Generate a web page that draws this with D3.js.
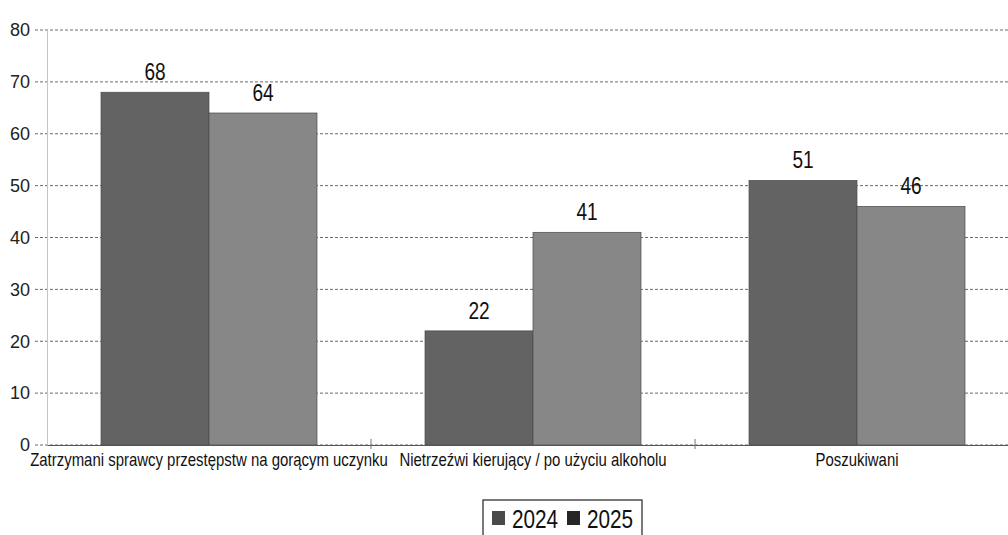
<!DOCTYPE html>
<html><head><meta charset="utf-8">
<script src="https://cdn.jsdelivr.net/npm/d3@7"></script>
<style>
html,body{margin:0;padding:0;background:#fff;}
svg{display:block;}
</style></head>
<body>
<script>
const categories = ["Zatrzymani sprawcy przestępstw na gorącym uczynku", "Nietrzeźwi kierujący / po użyciu alkoholu", "Poszukiwani"];
const seriesNames = ["2024", "2025"];
const values2024 = [68, 22, 51];
const values2025 = [64, 41, 46];
const yTicks = [0, 10, 20, 30, 40, 50, 60, 70, 80];

const W = 1008, H = 535;
const margin = {left: 47, top: 30, bottom: 445};
const colors = {"2024": "#636363", "2025": "#878787"};
const legendColors = {"2024": "#4a4a4a", "2025": "#262626"};
const font = "'Liberation Sans', Arial, sans-serif";
const SX = 0.83; // narrow-font emulation

const svg = d3.select("body").append("svg").attr("width", W).attr("height", H);

const x0 = d3.scaleBand().domain(categories).range([margin.left, margin.left + 3 * 324]).paddingInner(0).paddingOuter(0);
const x1 = d3.scaleBand().domain(seriesNames).range([0, x0.bandwidth()]).paddingInner(0).paddingOuter(0.5);
const y = d3.scaleLinear().domain([0, 80]).range([margin.bottom, margin.top]);

// gridlines
svg.append("g").selectAll("line").data(yTicks).join("line")
  .attr("x1", margin.left - 12).attr("x2", W)
  .attr("y1", d => y(d)).attr("y2", d => y(d))
  .attr("stroke", "#6a6a6a").attr("stroke-width", 1).attr("stroke-dasharray", "3,2");

// y axis
const yAxis = d3.axisLeft(y).tickValues(yTicks).tickSize(0).tickPadding(17);
const gy = svg.append("g").attr("transform", `translate(${margin.left},0)`).call(yAxis);
gy.select(".domain").attr("stroke", "#c4c4c4");
gy.selectAll("text").attr("font-family", font).attr("font-size", 18).attr("fill", "#222");

// bars
const data = categories.map((c, i) => ({cat: c, vals: [{s: "2024", v: values2024[i]}, {s: "2025", v: values2025[i]}]}));
const groups = svg.append("g").selectAll("g").data(data).join("g")
  .attr("transform", d => `translate(${x0(d.cat)},0)`);
groups.selectAll("rect").data(d => d.vals).join("rect")
  .attr("x", d => x1(d.s)).attr("width", x1.bandwidth())
  .attr("y", d => y(d.v)).attr("height", d => y(0) - y(d.v))
  .attr("fill", d => colors[d.s]).attr("stroke", "#4a4a4a").attr("stroke-width", 0.7);
groups.selectAll("text").data(d => d.vals).join("text")
  .attr("transform", d => `translate(${x1(d.s) + x1.bandwidth() / 2},${y(d.v) - 12}) scale(${SX},1)`)
  .attr("text-anchor", "middle")
  .attr("font-family", font).attr("font-size", 23).attr("fill", "#111")
  .text(d => d.v);

// x axis
const xAxis = d3.axisBottom(x0).tickSize(0).tickPadding(8);
const gx = svg.append("g").attr("transform", `translate(0,${y(0)})`).call(xAxis);
gx.select(".domain").attr("stroke", "#555");
gx.selectAll("text").attr("font-family", font).attr("font-size", 18).attr("fill", "#111")
  .attr("transform", `scale(${SX},1)`);
svg.append("g").selectAll("line").data([1, 2]).join("line")
  .attr("x1", d => margin.left + d * x0.step()).attr("x2", d => margin.left + d * x0.step())
  .attr("y1", y(0) - 6).attr("y2", y(0) + 4).attr("stroke", "#777");

// legend
const lg = svg.append("g").attr("transform", "translate(483,500)");
lg.append("rect").attr("width", 159).attr("height", 40).attr("fill", "#fff").attr("stroke", "#333").attr("stroke-width", 1.3);
const items = lg.selectAll("g").data(seriesNames).join("g")
  .attr("transform", (d, i) => `translate(${9 + i * 75},0)`);
items.append("rect").attr("x", 0).attr("y", 11).attr("width", 13).attr("height", 14)
  .attr("fill", d => legendColors[d]);
items.append("text").attr("transform", `translate(20,28) scale(${SX},1)`)
  .attr("font-family", font).attr("font-size", 25).attr("fill", "#111").text(d => d);
</script>
</body></html>
